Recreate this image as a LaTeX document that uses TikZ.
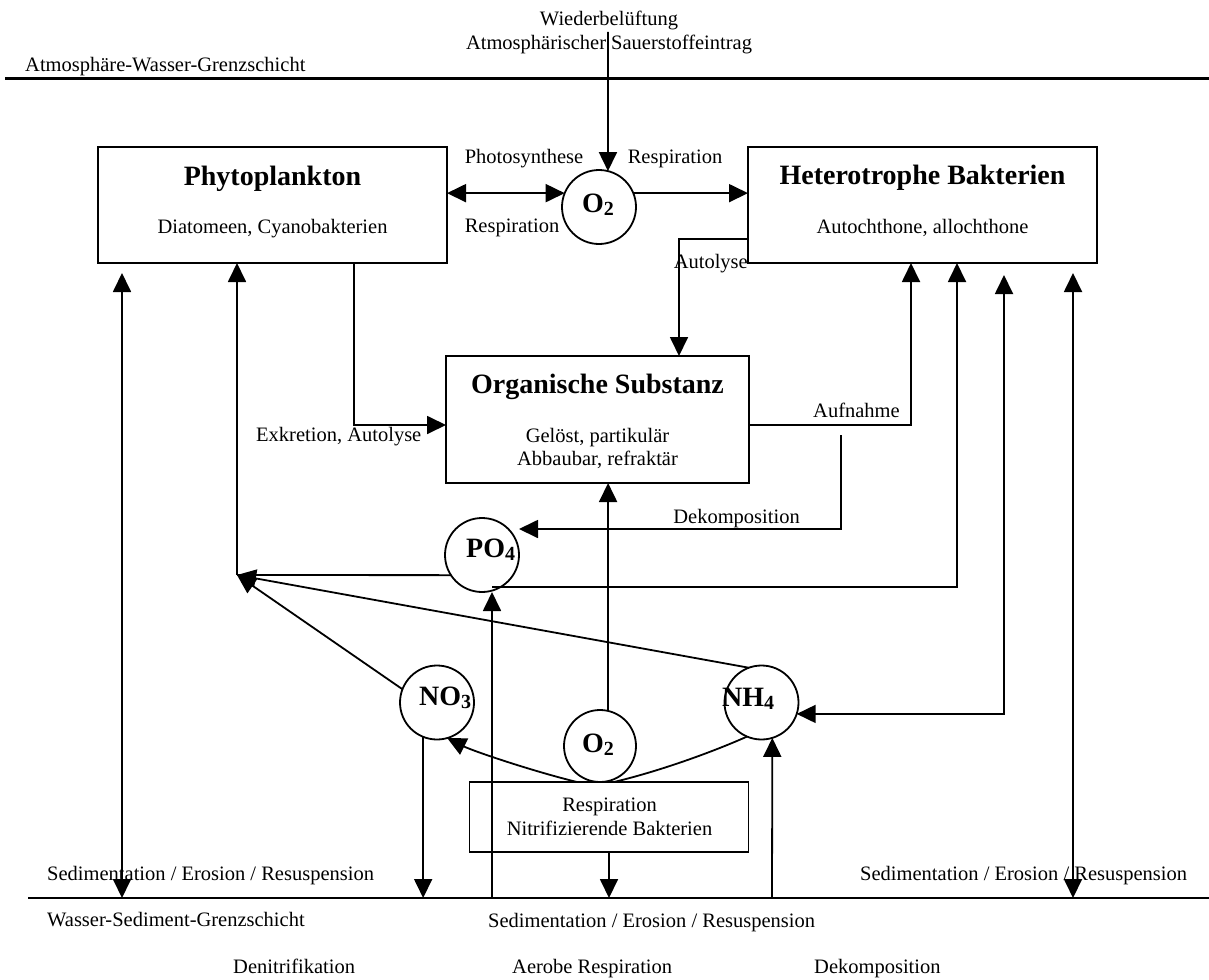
\documentclass[tikz,border=0pt]{standalone}
\usepackage{fontspec}
\setmainfont{Liberation Serif}
\usetikzlibrary{arrows.meta,calc}
\newcommand\chsub[1]{\raisebox{-3pt}{\fontsize{20}{22}\selectfont #1}}
\begin{document}
\begin{tikzpicture}[x=1pt,y=-1pt,
  conn/.style={line width=1.8pt,>={Triangle[length=19pt,width=18pt]}},
  bound/.style={line width=2.6pt},
  box/.style={draw,line width=1.8pt,inner sep=0pt,outer sep=0pt},
  circ/.style={draw,circle,line width=1.8pt,inner sep=0pt,outer sep=0pt,minimum size=74pt},
  lbl/.style={font=\fontsize{20.5}{24}\selectfont,inner sep=0pt,anchor=base},
  ttl/.style={font=\bfseries\fontsize{28}{32}\selectfont,inner sep=0pt,anchor=base},
  chem/.style={font=\bfseries\fontsize{28}{32}\selectfont,inner sep=0pt,anchor=base west}]
\fill[white] (0,0) rectangle (1209,979);
\useasboundingbox (0,0) rectangle (1209,979);

% boundary lines
\coordinate (tl) at (5,78.5);
\coordinate (tr) at (1209,78.5);
\coordinate (bl) at (28,898);
\coordinate (br) at (1209,898);
\draw[bound] (tl) -- (tr);
\draw[bound] (bl) -- (br);

% boxes
\node[box,minimum width=349pt,minimum height=116pt] (phyto) at (272.5,205) {};
\node[box,minimum width=349pt,minimum height=116pt] (hetero) at (922.5,205) {};
\node[box,minimum width=303pt,minimum height=127pt] (org) at (597.5,419.5) {};
\node[box,minimum width=279pt,minimum height=70pt] (resp) at (609,817) {};

% circles
\node[circ] (o2t) at (599,207) {};
\node[circ] (po4) at (482,555) {};
\node[circ] (no3) at (437,702.5) {};
\node[circ] (nh4) at (761.5,702.5) {};
\node[circ,minimum size=72pt] (o2b) at (600,746) {};

% free ends
\coordinate (aer) at (608,32);
\coordinate (dek) at (841,435);
\coordinate (pc) at (237,575);
\coordinate (po4r) at (492,587);
\coordinate (cl) at (577,782);
\coordinate (cr) at (614,782);
\coordinate (hr1) at (1004,275);
\coordinate (hr2) at (1073,273);
\coordinate (pl) at (122,273);

% connectors
\draw[conn,->] (aer) -- (o2t.76);
\draw[conn,<->] (o2t.158 -| phyto.east) -- (o2t.158);
\draw[conn,->] (o2t.22) -- (o2t.22 -| hetero.west);
\draw[conn,->] (hetero.west |- 0,239) -| (679,0 |- org.north);
\draw[conn,->] (354,0 |- phyto.south) |- (org.west |- 0,425);
\draw[conn,->] (org.east |- 0,425) -| (911,0 |- hetero.south);
\draw[conn,->] (dek) |- (po4.east |- 0,529);
\draw[conn] (po4.213) -- (pc);
\draw[conn,->] (pc) -- (pc |- phyto.south);
\draw[conn,->] (no3.159) -- (pc);
\draw[conn,->] (nh4.110) -- (pc);
\draw[conn,->] (po4r) -| (957,0 |- hetero.south);
\draw[conn,->] (492,0 |- bl) -- (492,0 |- po4.south);
\draw[conn,->] (o2b.77) -- (o2b.77 |- org.south);
\draw[conn,->] (cl) .. controls (532,771) and (473,751) .. (no3.286);
\draw[conn] (cr) .. controls (664,770) and (717,750) .. (nh4.247);
\draw[conn,->] (resp.south) -- (resp.south |- bl);
\draw[conn,->] (no3.248) -- (no3.248 |- bl);
\draw[conn,->] (772,0 |- bl) -- (nh4.287);
\draw[conn,<->] (nh4.342) -| (hr1);
\draw[conn,<->] (hr2) -- (hr2 |- bl);
\draw[conn,<->] (pl) -- (pl |- bl);

% texts
\node[lbl] (t-wb) at (609,26) {Wiederbelüftung};
\node[lbl] (t-ase) at (609,50) {Atmosphärischer Sauerstoffeintrag};
\node[lbl,anchor=base west] (t-awg) at (25,72) {Atmosphäre-Wasser-Grenzschicht};
\node[ttl] (t-phy) at (272.5,185) {Phytoplankton};
\node[lbl] (t-dia) at (272.5,233) {Diatomeen, Cyanobakterien};
\node[ttl] (t-het) at (922.5,184) {Heterotrophe Bakterien};
\node[lbl] (t-aut) at (922.5,233) {Autochthone, allochthone};
\node[lbl] (t-pho) at (524,163) {Photosynthese};
\node[lbl] (t-res1) at (675,163) {Respiration};
\node[lbl] (t-res2) at (512,232) {Respiration};
\node[lbl,anchor=base east] (t-autol) at (748,268) {Autolyse};
\node[ttl] (t-org) at (597.5,393) {Organische Substanz};
\node[lbl] (t-gel) at (597.5,442) {Gelöst, partikulär};
\node[lbl] (t-abb) at (597.5,465) {Abbaubar, refraktär};
\node[lbl,anchor=base west] (t-exk) at (256,441) {Exkretion, Autolyse};
\node[lbl,anchor=base west] (t-auf) at (813,417) {Aufnahme};
\node[lbl,anchor=base east] (t-dek) at (800,523.5) {Dekomposition};
\node[chem] (c-o2t) at (582,212) {O\chsub{2}};
\node[chem] (c-po4) at (466,557) {PO\chsub{4}};
\node[chem] (c-no3) at (419,705) {NO\chsub{3}};
\node[chem] (c-nh4) at (722,706) {NH\chsub{4}};
\node[chem] (c-o2b) at (582,752) {O\chsub{2}};
\node[lbl] (t-resp) at (609.5,811) {Respiration};
\node[lbl] (t-nitr) at (609.5,835) {Nitrifizierende Bakterien};
\node[lbl,anchor=base west] (t-sed1) at (47,880) {Sedimentation / Erosion / Resuspension};
\node[lbl,anchor=base west] (t-sed2) at (860,880) {Sedimentation / Erosion / Resuspension};
\node[lbl,anchor=base west] (t-sed3) at (488,927) {Sedimentation / Erosion / Resuspension};
\node[lbl,anchor=base west] (t-wsg) at (47,926) {Wasser-Sediment-Grenzschicht};
\node[lbl,anchor=base west] (t-den) at (233,973) {Denitrifikation};
\node[lbl,anchor=base west] (t-aer) at (512,973) {Aerobe Respiration};
\node[lbl,anchor=base west] (t-dek2) at (814,973) {Dekomposition};
\end{tikzpicture}
\end{document}
